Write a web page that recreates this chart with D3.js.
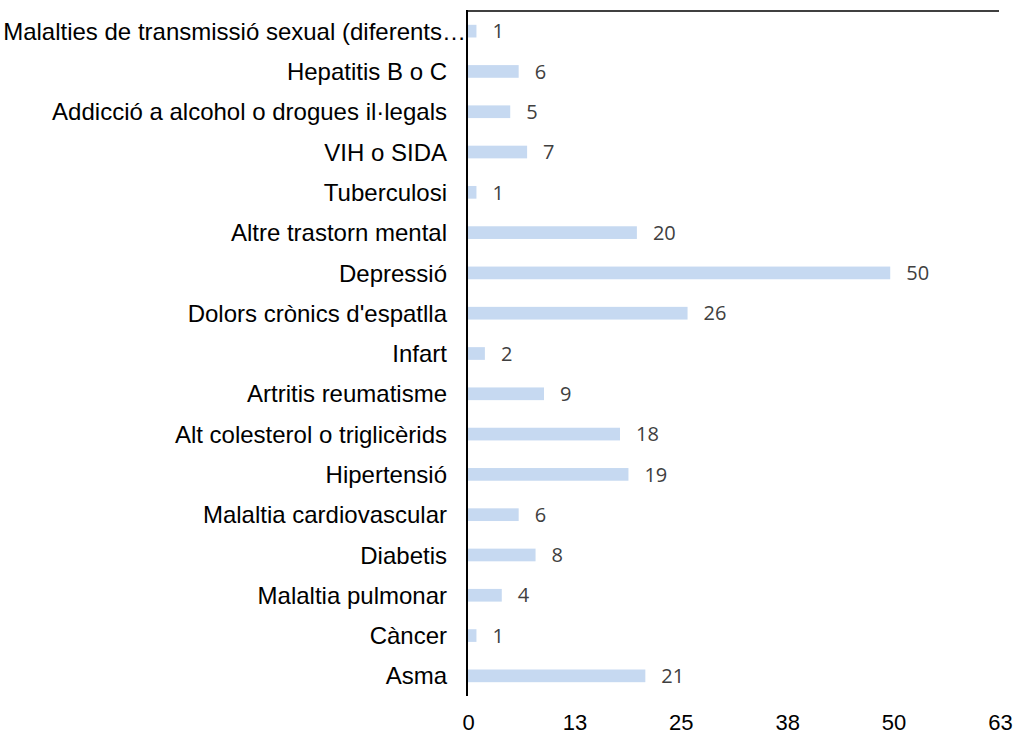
<!DOCTYPE html>
<html>
<head>
<meta charset="utf-8">
<script src="https://cdn.jsdelivr.net/npm/d3@7"></script>
<style>
  html, body { margin: 0; padding: 0; background: #fff; }
  svg { display: block; }
</style>
</head>
<body>
<svg id="chart" width="1014" height="735"></svg>
<script>
const categories = [
  "Malalties de transmissió sexual (diferents…",
  "Hepatitis B o C",
  "Addicció a alcohol o drogues il·legals",
  "VIH o SIDA",
  "Tuberculosi",
  "Altre trastorn mental",
  "Depressió",
  "Dolors crònics d'espatlla",
  "Infart",
  "Artritis reumatisme",
  "Alt colesterol o triglicèrids",
  "Hipertensió",
  "Malaltia cardiovascular",
  "Diabetis",
  "Malaltia pulmonar ",
  "Càncer",
  "Asma"
];
const values = [1, 6, 5, 7, 1, 20, 50, 26, 2, 9, 18, 19, 6, 8, 4, 1, 21];
const tickValues = [0, 12.6, 25.2, 37.8, 50.4, 63];
const tickLabels = ["0", "13", "25", "38", "50", "63"];

const svg = d3.select("#chart");
const x = d3.scaleLinear().domain([0, 63]).range([468, 1000]);
const y = d3.scaleBand().domain(categories).range([11, 696]).paddingInner(0.685).paddingOuter(0.3425);

// bars
svg.append("g").selectAll("rect")
  .data(values)
  .join("rect")
  .attr("x", x(0))
  .attr("y", (d, i) => y(categories[i]))
  .attr("width", d => x(d) - x(0))
  .attr("height", y.bandwidth())
  .attr("fill", "#c6d9f1");

// value labels
svg.append("g").selectAll("text")
  .data(values)
  .join("text")
  .attr("x", d => x(d) + 16)
  .attr("y", (d, i) => y(categories[i]) + y.bandwidth() / 2)
  .attr("dy", "0.36em")
  .attr("font-family", "'Open Sans', 'Noto Sans', sans-serif")
  .attr("font-size", 20)
  .attr("fill", "#404040")
  .text(d => d);

// category labels (truncated label runs up to the axis, as in the original)
svg.append("g").selectAll("text")
  .data(categories)
  .join("text")
  .attr("x", d => d.endsWith("…") ? 466 : 447)
  .attr("y", d => y(d) + y.bandwidth() / 2)
  .attr("dy", "0.36em")
  .attr("text-anchor", "end")
  .attr("font-family", "Arial, 'Liberation Sans', sans-serif")
  .attr("font-size", 24)
  .attr("fill", "#000")
  .text(d => d);

// x tick labels (no axis line)
const xAxis = d3.axisBottom(x).tickValues(tickValues).tickSize(0)
  .tickFormat((d, i) => tickLabels[i]);
const gx = svg.append("g").attr("transform", "translate(0,711)").call(xAxis);
gx.select(".domain").remove();
gx.selectAll("text")
  .attr("font-family", "Arial, 'Liberation Sans', sans-serif")
  .attr("font-size", 22)
  .attr("fill", "#000");

// vertical axis line and top border
svg.append("line").attr("x1", 467).attr("x2", 467).attr("y1", 10).attr("y2", 696)
  .attr("stroke", "#000").attr("stroke-width", 2);
svg.append("line").attr("x1", 466).attr("x2", 999).attr("y1", 11).attr("y2", 11)
  .attr("stroke", "#000").attr("stroke-width", 1.5);
</script>
</body>
</html>
